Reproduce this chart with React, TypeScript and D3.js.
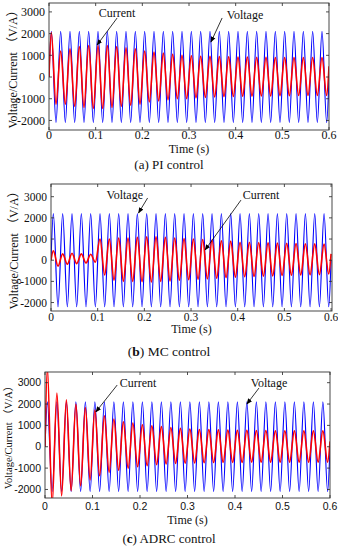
import React from 'react';
import * as d3 from 'd3';

// instants of the zero start, the 60 half-cycle extremes and the end of the run (s)
const peakTimes = [
  0, 0.005, 0.015, 0.025, 0.035, 0.045, 0.055, 0.065, 0.075, 0.085, 0.095,
  0.105, 0.115, 0.125, 0.135, 0.145, 0.155, 0.165, 0.175, 0.185, 0.195,
  0.205, 0.215, 0.225, 0.235, 0.245, 0.255, 0.265, 0.275, 0.285, 0.295,
  0.305, 0.315, 0.325, 0.335, 0.345, 0.355, 0.365, 0.375, 0.385, 0.395,
  0.405, 0.415, 0.425, 0.435, 0.445, 0.455, 0.465, 0.475, 0.485, 0.495,
  0.505, 0.515, 0.525, 0.535, 0.545, 0.555, 0.565, 0.575, 0.585, 0.595, 0.6
];

const xTicks = [0, 0.1, 0.2, 0.3, 0.4, 0.5, 0.6];
const yTicks = [-2000, -1000, 0, 1000, 2000, 3000];

// (a) PI control
const voltageA = [
  0,
  2100, -2100, 2100, -2100, 2100, -2100, 2100, -2100, 2100, -2100,
  2100, -2100, 2100, -2100, 2100, -2100, 2100, -2100, 2100, -2100,
  2100, -2100, 2100, -2100, 2100, -2100, 2100, -2100, 2100, -2100,
  2100, -2100, 2100, -2100, 2100, -2100, 2100, -2100, 2100, -2100,
  2100, -2100, 2100, -2100, 2100, -2100, 2100, -2100, 2100, -2100,
  2100, -2100, 2100, -2100, 2100, -2100, 2100, -2100, 2100, -2100,
  0
];
const currentA = [
  0,
  2050, -1250, 1200, -1250, 1300, -1350, 1400, -1400, 1450, -1450,
  1450, -1450, 1450, -1400, 1400, -1350, 1350, -1300, 1300, -1250,
  1200, -1150, 1150, -1100, 1100, -1050, 1050, -1000, 1000, -1000,
  980, -960, 960, -940, 950, -920, 940, -900, 930, -900,
  920, -880, 920, -880, 910, -870, 910, -870, 900, -860,
  900, -860, 900, -850, 900, -850, 900, -850, 900, -850,
  500
];

// (b) MC control
const voltageB = [
  0,
  2200, -2200, 2200, -2200, 2200, -2200, 2200, -2200, 2200, -2200,
  2200, -2200, 2200, -2200, 2200, -2200, 2200, -2200, 2200, -2200,
  2200, -2200, 2200, -2200, 2200, -2200, 2200, -2200, 2200, -2200,
  2200, -2200, 2200, -2200, 2200, -2200, 2200, -2200, 2200, -2200,
  2200, -2200, 2200, -2200, 2200, -2200, 2200, -2200, 2200, -2200,
  2200, -2200, 2200, -2200, 2200, -2200, 2200, -2200, 2200, -2200,
  0
];
const currentB = [
  0,
  450, -280, 300, -190, 330, -160, 300, -130, 280, -90,
  1000, -700, 1000, -940, 1050, -1000, 1050, -1000, 1080, -1020,
  1100, -1030, 1100, -1000, 1080, -980, 1050, -950, 1020, -920,
  1000, -900, 980, -880, 950, -850, 920, -820, 900, -800,
  850, -780, 850, -770, 830, -750, 820, -740, 810, -720,
  800, -710, 790, -700, 780, -690, 770, -680, 760, -650,
  300
];

// (c) ADRC control
const voltageC = [
  0,
  2100, -2100, 2100, -2100, 2100, -2100, 2100, -2100, 2100, -2100,
  2100, -2100, 2100, -2100, 2100, -2100, 2100, -2100, 2100, -2100,
  2100, -2100, 2100, -2100, 2100, -2100, 2100, -2100, 2100, -2100,
  2100, -2100, 2100, -2100, 2100, -2100, 2100, -2100, 2100, -2100,
  2100, -2100, 2100, -2100, 2100, -2100, 2100, -2100, 2100, -2100,
  2100, -2100, 2100, -2100, 2100, -2100, 2100, -2100, 2100, -2100,
  0
];
const currentC = [
  0,
  3700, -2700, 2520, -2300, 2200, -2060, 2000, -1830, 1840, -1550,
  1720, -1360, 1450, -1200, 1300, -1100, 1170, -1000, 1110, -940,
  1030, -890, 980, -840, 940, -810, 900, -780, 860, -770,
  830, -760, 810, -750, 800, -740, 790, -730, 780, -730,
  770, -730, 770, -720, 760, -720, 760, -720, 750, -720,
  750, -720, 750, -720, 750, -720, 750, -720, 750, -720,
  250
];

const SERIF = "'Liberation Serif', 'Times New Roman', 'Noto Sans CJK SC', serif";
const SANS = "'Liberation Sans', Arial, sans-serif";

type Note = { text: string; at: [number, number]; from: [number, number]; to: [number, number] };

type PanelProps = {
  id: string;
  box: { left: number; right: number; top: number; bottom: number };
  xMax: number;
  yDomain: [number, number];
  voltage: number[];
  current: number[];
  notes: Note[];
  tickFont: string;
  tickSize: number;
  tickBaseline: number;
  timeBaseline: number;
  labelX: number;
  labelSize: number;
  caption: string;
  captionBold: boolean;
  captionBaseline: number;
  captionSize: number;
};

const Panel = (p: PanelProps) => {
  const { box } = p;
  const x = d3.scaleLinear().domain([0, p.xMax]).range([box.left, box.right]);
  const y = d3.scaleLinear().domain(p.yDomain).range([box.bottom, box.top]);
  const line = d3.line<number>()
    .x((d, i) => x(peakTimes[i]))
    .y(d => y(d))
    .curve(d3.curveMonotoneX);
  const tk = 3;
  const letter = p.caption.slice(1, 2);
  const rest = p.caption.slice(3);

  return (
    <g>
      <defs>
        <clipPath id={`clip-${p.id}`}>
          <rect x={box.left} y={box.top} width={box.right - box.left} height={box.bottom - box.top} />
        </clipPath>
      </defs>
      <g clipPath={`url(#clip-${p.id})`}>
        <path d={line(p.voltage) || ''} fill="none" stroke="#0000ff" strokeWidth={1.15} />
        <path d={line(p.current) || ''} fill="none" stroke="#ff0000" strokeWidth={1.6} />
      </g>
      {/* ticks on all four sides, pointing in */}
      {xTicks.map(t => (
        <g key={`xt${t}`}>
          <line x1={x(t)} x2={x(t)} y1={box.bottom} y2={box.bottom - tk} stroke="#222" strokeWidth={0.8} />
          <line x1={x(t)} x2={x(t)} y1={box.top} y2={box.top + tk} stroke="#222" strokeWidth={0.8} />
          <text x={x(t)} y={p.tickBaseline} textAnchor="middle" fontFamily={p.tickFont}
            fontSize={p.tickSize} fill="#111">{String(t)}</text>
        </g>
      ))}
      {yTicks.map(v => (
        <g key={`yt${v}`}>
          <line x1={box.left} x2={box.left + tk} y1={y(v)} y2={y(v)} stroke="#222" strokeWidth={0.8} />
          <line x1={box.right} x2={box.right - tk} y1={y(v)} y2={y(v)} stroke="#222" strokeWidth={0.8} />
          <text x={box.left - 4} y={y(v)} dy="0.35em" textAnchor="end" fontFamily={p.tickFont}
            fontSize={p.tickSize} fill="#111">{String(v)}</text>
        </g>
      ))}
      <rect x={box.left} y={box.top} width={box.right - box.left} height={box.bottom - box.top}
        fill="none" stroke="#333" strokeWidth={0.9} />
      <text x={(box.left + box.right) / 2} y={p.timeBaseline} textAnchor="middle"
        fontFamily={SERIF} fontSize={12} fill="#111">Time (s)</text>
      <text transform={`translate(${p.labelX},${(box.top + box.bottom) / 2}) rotate(-90)`}
        textAnchor="middle" fontFamily={SERIF} fontSize={p.labelSize} fill="#111">
        Voltage/Current （V/A）
      </text>
      {p.notes.map(n => (
        <g key={n.text}>
          <text x={x(n.at[0])} y={y(n.at[1])} dy="0.35em" textAnchor="middle"
            fontFamily={SERIF} fontSize={12} fill="#111">{n.text}</text>
          <line x1={x(n.from[0])} y1={y(n.from[1])} x2={x(n.to[0])} y2={y(n.to[1])}
            stroke="#000" strokeWidth={0.8} markerEnd="url(#arrowHead)" />
        </g>
      ))}
      <text x={169} y={p.captionBaseline} textAnchor="middle" fontFamily={SERIF}
        fontSize={p.captionSize} fill="#111">
        (<tspan fontWeight={p.captionBold ? 'bold' : 'normal'}>{letter}</tspan>){rest}
      </text>
    </g>
  );
};

export default function App() {
  return (
    <svg width={338} height={550} style={{ position: 'absolute', left: 0, top: 0, background: '#fff' }}>
      <defs>
        <marker id="arrowHead" viewBox="0 0 10 10" refX={9} refY={5} markerWidth={6} markerHeight={6}
          orient="auto" markerUnits="userSpaceOnUse">
          <path d="M0,1 L10,5 L0,9 Z" fill="#000" />
        </marker>
      </defs>
      <rect width={338} height={550} fill="#fff" />
      <Panel
        id="a"
        box={{ left: 49, right: 329, top: 3, bottom: 130 }}
        xMax={0.6}
        yDomain={[-2440, 3410]}
        voltage={voltageA}
        current={currentA}
        notes={[
          { text: 'Current', at: [0.146, 2950], from: [0.146, 2720], to: [0.103, 1475] },
          { text: 'Voltage', at: [0.42, 2860], from: [0.371, 2720], to: [0.347, 1610] },
        ]}
        tickFont={SERIF}
        tickSize={12}
        tickBaseline={139}
        timeBaseline={153}
        labelX={17}
        labelSize={12}
        caption="(a) PI control"
        captionBold={false}
        captionBaseline={169}
        captionSize={13}
      />
      <Panel
        id="b"
        box={{ left: 51, right: 332, top: 184, bottom: 311 }}
        xMax={0.602}
        yDomain={[-2400, 3600]}
        voltage={voltageB}
        current={currentB}
        notes={[
          { text: 'Voltage', at: [0.158, 3080], from: [0.207, 2940], to: [0.1875, 2230] },
          { text: 'Current', at: [0.45, 3080], from: [0.407, 2840], to: [0.33, 480] },
        ]}
        tickFont={SERIF}
        tickSize={11.5}
        tickBaseline={321}
        timeBaseline={333}
        labelX={18}
        labelSize={12}
        caption="(b) MC control"
        captionBold={true}
        captionBaseline={356}
        captionSize={13.5}
      />
      <Panel
        id="c"
        box={{ left: 45, right: 330, top: 372, bottom: 498 }}
        xMax={0.6}
        yDomain={[-2400, 3500]}
        voltage={voltageC}
        current={currentC}
        notes={[
          { text: 'Current', at: [0.196, 2985], from: [0.152, 2890], to: [0.107, 1630] },
          { text: 'Voltage', at: [0.4716, 2985], from: [0.4505, 2750], to: [0.425, 2000] },
        ]}
        tickFont={SANS}
        tickSize={10.5}
        tickBaseline={510}
        timeBaseline={524}
        labelX={12}
        labelSize={10.5}
        caption="(c) ADRC control"
        captionBold={true}
        captionBaseline={543}
        captionSize={13}
      />
    </svg>
  );
}
